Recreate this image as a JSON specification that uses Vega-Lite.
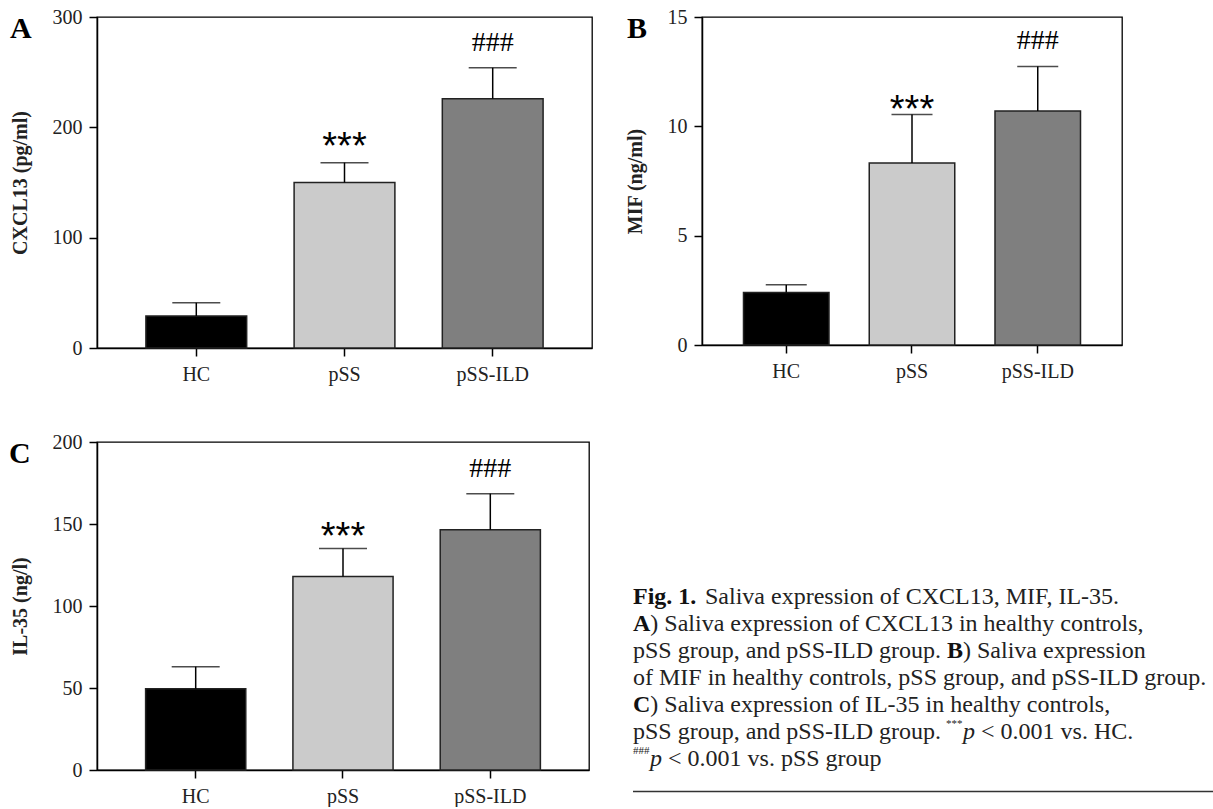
{
  "$schema": "https://vega.github.io/schema/vega-lite/v6.json",
  "background": "white",
  "padding": {"left": 8, "top": 6, "right": 0, "bottom": 0},
  "spacing": 46,
  "config": {
    "view": {"stroke": "#000", "strokeWidth": 1.3},
    "axis": {
      "labelFont": "Liberation Serif", "labelFontSize": 20, "labelColor": "#222",
      "titleFont": "Liberation Serif", "titleFontSize": 20, "titleFontWeight": "bold", "titleColor": "#222",
      "domainColor": "#000", "domainWidth": 1.5, "tickColor": "#000", "tickWidth": 1.5, "tickSize": 8, "grid": false
    }
  },
  "vconcat": [
    {
      "hconcat": [
        {
          "width": 495, "height": 331,
          "title": {"text": "A", "anchor": "start", "frame": "group", "font": "Liberation Serif", "fontSize": 30, "fontWeight": "bold", "color": "#000", "dx": -87, "offset": 0, "baseline": "top", "dy": 37},
          "data": {"values": [
            {"group": "HC", "value": 29, "err": 41, "sig": ""},
            {"group": "pSS", "value": 150, "err": 168, "sig": "***"},
            {"group": "pSS-ILD", "value": 226, "err": 254, "sig": "###"}
          ]},
          "encoding": {"x": {"field": "group", "type": "nominal", "sort": null, "scale": {"paddingInner": 0.32, "paddingOuter": 0.33}, "axis": {"title": null, "labelAngle": 0, "labelPadding": 8}}},
          "layer": [
            {"mark": {"type": "bar", "stroke": "#222", "strokeWidth": 1.5},
             "encoding": {
               "y": {"field": "value", "type": "quantitative", "scale": {"domain": [0, 300], "nice": false}, "axis": {"values": [0, 100, 200, 300], "title": "CXCL13 (pg/ml)", "titlePadding": 22, "labelPadding": 7}},
               "color": {"field": "group", "type": "nominal", "scale": {"domain": ["HC", "pSS", "pSS-ILD"], "range": ["#000000", "#cbcbcb", "#7f7f7f"]}, "legend": null}}},
            {"mark": {"type": "rule", "color": "#000", "strokeWidth": 1.5},
             "encoding": {"y": {"field": "value", "type": "quantitative", "title": "CXCL13 (pg/ml)"}, "y2": {"field": "err"}}},
            {"mark": {"type": "tick", "color": "#000", "thickness": 1.5, "size": 48},
             "encoding": {"y": {"field": "err", "type": "quantitative", "title": "CXCL13 (pg/ml)"}}},
            {"transform": [{"filter": "datum.sig === '***'"}],
             "mark": {"type": "text", "font": "Liberation Sans", "fontSize": 38, "baseline": "alphabetic", "dy": -4, "color": "#000"},
             "encoding": {"y": {"field": "err", "type": "quantitative", "title": "CXCL13 (pg/ml)"}, "text": {"field": "sig"}}},
            {"transform": [{"filter": "datum.sig === '###'"}],
             "mark": {"type": "text", "font": "Liberation Serif", "fontSize": 28, "baseline": "alphabetic", "dy": -17, "color": "#000"},
             "encoding": {"y": {"field": "err", "type": "quantitative", "title": "CXCL13 (pg/ml)"}, "text": {"field": "sig"}}}
          ]
        },
        {
          "width": 420, "height": 328,
          "title": {"text": "B", "anchor": "start", "frame": "group", "font": "Liberation Serif", "fontSize": 30, "fontWeight": "bold", "color": "#000", "dx": -75, "offset": 0, "baseline": "top", "dy": 37},
          "data": {"values": [
            {"group": "HC", "value": 2.4, "err": 2.75, "sig": ""},
            {"group": "pSS", "value": 8.32, "err": 10.54, "sig": "***"},
            {"group": "pSS-ILD", "value": 10.7, "err": 12.74, "sig": "###"}
          ]},
          "encoding": {"x": {"field": "group", "type": "nominal", "sort": null, "scale": {"paddingInner": 0.32, "paddingOuter": 0.33}, "axis": {"title": null, "labelAngle": 0, "labelPadding": 8}}},
          "layer": [
            {"mark": {"type": "bar", "stroke": "#222", "strokeWidth": 1.5},
             "encoding": {
               "y": {"field": "value", "type": "quantitative", "scale": {"domain": [0, 15], "nice": false}, "axis": {"values": [0, 5, 10, 15], "title": "MIF (ng/ml)", "titlePadding": 22, "labelPadding": 7}},
               "color": {"field": "group", "type": "nominal", "scale": {"domain": ["HC", "pSS", "pSS-ILD"], "range": ["#000000", "#cbcbcb", "#7f7f7f"]}, "legend": null}}},
            {"mark": {"type": "rule", "color": "#000", "strokeWidth": 1.5},
             "encoding": {"y": {"field": "value", "type": "quantitative", "title": "MIF (ng/ml)"}, "y2": {"field": "err"}}},
            {"mark": {"type": "tick", "color": "#000", "thickness": 1.5, "size": 41},
             "encoding": {"y": {"field": "err", "type": "quantitative", "title": "MIF (ng/ml)"}}},
            {"transform": [{"filter": "datum.sig === '***'"}],
             "mark": {"type": "text", "font": "Liberation Sans", "fontSize": 38, "baseline": "alphabetic", "dy": 7, "color": "#000"},
             "encoding": {"y": {"field": "err", "type": "quantitative", "title": "MIF (ng/ml)"}, "text": {"field": "sig"}}},
            {"transform": [{"filter": "datum.sig === '###'"}],
             "mark": {"type": "text", "font": "Liberation Serif", "fontSize": 28, "baseline": "alphabetic", "dy": -17, "color": "#000"},
             "encoding": {"y": {"field": "err", "type": "quantitative", "title": "MIF (ng/ml)"}, "text": {"field": "sig"}}}
          ]
        }
      ],
      "spacing": 110,
      "bounds": "flush"
    },
    {
      "hconcat": [
        {
          "width": 492, "height": 328,
          "title": {"text": "C", "anchor": "start", "frame": "group", "font": "Liberation Serif", "fontSize": 30, "fontWeight": "bold", "color": "#000", "dx": -88, "offset": 0, "baseline": "top", "dy": 37},
          "data": {"values": [
            {"group": "HC", "value": 49.5, "err": 63, "sig": ""},
            {"group": "pSS", "value": 118, "err": 135, "sig": "***"},
            {"group": "pSS-ILD", "value": 146.5, "err": 168.5, "sig": "###"}
          ]},
          "encoding": {"x": {"field": "group", "type": "nominal", "sort": null, "scale": {"paddingInner": 0.32, "paddingOuter": 0.33}, "axis": {"title": null, "labelAngle": 0, "labelPadding": 8}}},
          "layer": [
            {"mark": {"type": "bar", "stroke": "#222", "strokeWidth": 1.5},
             "encoding": {
               "y": {"field": "value", "type": "quantitative", "scale": {"domain": [0, 200], "nice": false}, "axis": {"values": [0, 50, 100, 150, 200], "title": "IL-35 (ng/l)", "titlePadding": 22, "labelPadding": 7}},
               "color": {"field": "group", "type": "nominal", "scale": {"domain": ["HC", "pSS", "pSS-ILD"], "range": ["#000000", "#cbcbcb", "#7f7f7f"]}, "legend": null}}},
            {"mark": {"type": "rule", "color": "#000", "strokeWidth": 1.5},
             "encoding": {"y": {"field": "value", "type": "quantitative", "title": "IL-35 (ng/l)"}, "y2": {"field": "err"}}},
            {"mark": {"type": "tick", "color": "#000", "thickness": 1.5, "size": 48},
             "encoding": {"y": {"field": "err", "type": "quantitative", "title": "IL-35 (ng/l)"}}},
            {"transform": [{"filter": "datum.sig === '***'"}],
             "mark": {"type": "text", "font": "Liberation Sans", "fontSize": 38, "baseline": "alphabetic", "dy": 0, "color": "#000"},
             "encoding": {"y": {"field": "err", "type": "quantitative", "title": "IL-35 (ng/l)"}, "text": {"field": "sig"}}},
            {"transform": [{"filter": "datum.sig === '###'"}],
             "mark": {"type": "text", "font": "Liberation Serif", "fontSize": 28, "baseline": "alphabetic", "dy": -17, "color": "#000"},
             "encoding": {"y": {"field": "err", "type": "quantitative", "title": "IL-35 (ng/l)"}, "text": {"field": "sig"}}}
          ]
        },
        {
          "width": 580, "height": 328,
          "view": {"stroke": null},
          "data": {"values": [
            {"line": 1, "part": "bold0", "text": "Fig. 1."},
            {"line": 1, "part": "afterFig", "text": "Saliva expression of CXCL13, MIF, IL-35."},
            {"line": 2, "part": "bold0", "text": "A"},
            {"line": 2, "part": "afterLetter", "text": ") Saliva expression of CXCL13 in healthy controls,"},
            {"line": 3, "part": "plain", "text": "pSS group, and pSS-ILD group."},
            {"line": 3, "part": "boldMid", "text": "B"},
            {"line": 3, "part": "afterB", "text": ") Saliva expression"},
            {"line": 4, "part": "plain", "text": "of MIF in healthy controls, pSS group, and pSS-ILD group."},
            {"line": 5, "part": "bold0", "text": "C"},
            {"line": 5, "part": "afterLetter", "text": ") Saliva expression of IL-35 in healthy controls,"},
            {"line": 6, "part": "plain", "text": "pSS group, and pSS-ILD group."},
            {"line": 6, "part": "supMid", "text": "***"},
            {"line": 6, "part": "italicMid", "text": "p"},
            {"line": 6, "part": "afterP6", "text": "< 0.001 vs. HC."},
            {"line": 7, "part": "sup0", "text": "###"},
            {"line": 7, "part": "italic0", "text": "p"},
            {"line": 7, "part": "afterP7", "text": "< 0.001 vs. pSS group"}
          ]},
          "encoding": {
            "x": {"datum": 0, "type": "quantitative", "scale": {"domain": [0, 1]}, "axis": null},
            "y": {"field": "line", "type": "quantitative", "scale": {"domain": [-4.74, 7.407], "reverse": true, "nice": false, "zero": false}, "axis": null},
            "text": {"field": "text"}
          },
          "layer": [
            {"transform": [{"filter": "datum.part === 'bold0'"}], "mark": {"type": "text", "align": "left", "baseline": "middle", "font": "Liberation Serif", "fontSize": 24, "fontWeight": "bold", "color": "#111"}},
            {"transform": [{"filter": "datum.part === 'plain'"}], "mark": {"type": "text", "align": "left", "baseline": "middle", "font": "Liberation Serif", "fontSize": 24, "color": "#222"}},
            {"transform": [{"filter": "datum.part === 'afterFig'"}], "mark": {"type": "text", "align": "left", "baseline": "middle", "font": "Liberation Serif", "fontSize": 24, "color": "#222", "dx": 72}},
            {"transform": [{"filter": "datum.part === 'afterLetter'"}], "mark": {"type": "text", "align": "left", "baseline": "middle", "font": "Liberation Serif", "fontSize": 24, "color": "#222", "dx": 17.3}},
            {"transform": [{"filter": "datum.part === 'boldMid'"}], "mark": {"type": "text", "align": "left", "baseline": "middle", "font": "Liberation Serif", "fontSize": 24, "fontWeight": "bold", "color": "#111", "dx": 314}},
            {"transform": [{"filter": "datum.part === 'afterB'"}], "mark": {"type": "text", "align": "left", "baseline": "middle", "font": "Liberation Serif", "fontSize": 24, "color": "#222", "dx": 330}},
            {"transform": [{"filter": "datum.part === 'supMid'"}], "mark": {"type": "text", "align": "left", "baseline": "middle", "font": "Liberation Serif", "fontSize": 11, "color": "#222", "dx": 313, "dy": -8}},
            {"transform": [{"filter": "datum.part === 'italicMid'"}], "mark": {"type": "text", "align": "left", "baseline": "middle", "font": "Liberation Serif", "fontSize": 24, "fontStyle": "italic", "color": "#222", "dx": 330}},
            {"transform": [{"filter": "datum.part === 'afterP6'"}], "mark": {"type": "text", "align": "left", "baseline": "middle", "font": "Liberation Serif", "fontSize": 24, "color": "#222", "dx": 348}},
            {"transform": [{"filter": "datum.part === 'sup0'"}], "mark": {"type": "text", "align": "left", "baseline": "middle", "font": "Liberation Serif", "fontSize": 11, "color": "#222", "dy": -8}},
            {"transform": [{"filter": "datum.part === 'italic0'"}], "mark": {"type": "text", "align": "left", "baseline": "middle", "font": "Liberation Serif", "fontSize": 24, "fontStyle": "italic", "color": "#222", "dx": 17}},
            {"transform": [{"filter": "datum.part === 'afterP7'"}], "mark": {"type": "text", "align": "left", "baseline": "middle", "font": "Liberation Serif", "fontSize": 24, "color": "#222", "dx": 35}},
            {"data": {"values": [{"pos": 8.2}]}, "mark": {"type": "rule", "color": "#333", "strokeWidth": 1.5}, "encoding": {"x": null, "text": null, "y": {"field": "pos", "type": "quantitative"}}}
          ]
        }
      ],
      "spacing": 44,
      "bounds": "flush"
    }
  ]
}
